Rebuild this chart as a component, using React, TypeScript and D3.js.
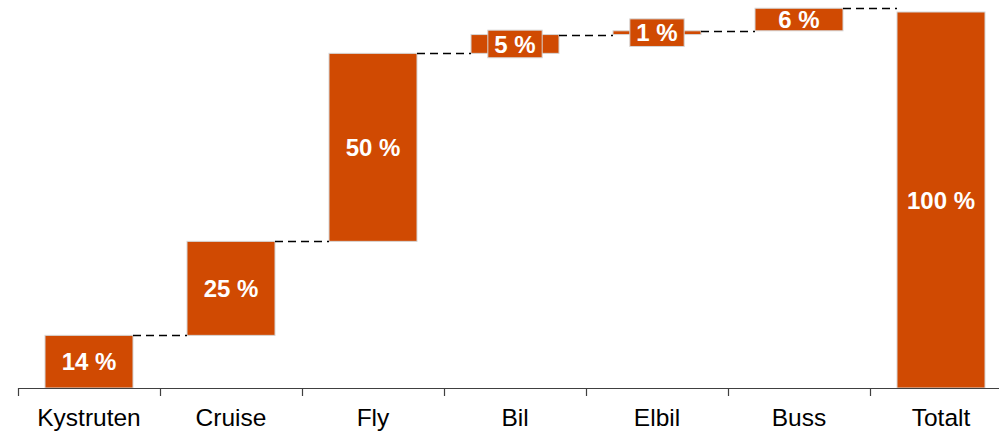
import React from "react";
import * as d3 from "d3";

// Waterfall: share of travellers by mode of transport
const categories = ["Kystruten", "Cruise", "Fly", "Bil", "Elbil", "Buss", "Totalt"];
const stepValues = [14, 25, 50, 5, 1, 6];
const totalValue = 100;

const WIDTH = 999;
const HEIGHT = 432;
const BASE_Y = 388;
const TOP_Y = 12;
const BAR_W = 88;
const FILL = "#D04A02";
const EDGE = "#d6d6d6";
const FONT = "'Liberation Sans', Arial, Helvetica, sans-serif";

type Bar = { cat: string; start: number; end: number; value: number };

export default function App() {
  const x = d3.scaleBand<string>().domain(categories).range([18, 18 + 142 * categories.length]).padding(0);
  const y = d3.scaleLinear().domain([0, 100]).range([BASE_Y, TOP_Y]);

  let running = 0;
  const bars: Bar[] = stepValues.map((v, i) => {
    const b = { cat: categories[i], start: running, end: running + v, value: v };
    running += v;
    return b;
  });
  bars.push({ cat: categories[categories.length - 1], start: 0, end: totalValue, value: totalValue });

  const bw = x.bandwidth();
  const barX = (c: string) => (x(c) as number) + (bw - BAR_W) / 2;
  const fmt = (v: number) => `${d3.format(".0f")(v)} %`;
  const fontSize = 24;
  const approxTextW = (s: string) => {
    // bold Arial advance widths for the glyphs used in labels
    const w: Record<string, number> = { "%": 0.889, " ": 0.278 };
    return s.split("").reduce((a, ch) => a + (w[ch] ?? 0.556), 0) * fontSize;
  };

  const boundaries = categories.map((c) => x(c) as number);

  return (
    <div style={{ position: "absolute", left: 0, top: 0 }}>
      <svg width={WIDTH} height={HEIGHT} style={{ display: "block", background: "#fff" }}>
        {/* bars */}
        {bars.map((b, i) => {
          const top = y(Math.max(b.start, b.end));
          const bot = y(Math.min(b.start, b.end));
          return (
            <rect
              key={"bar" + i}
              x={barX(b.cat)}
              y={top}
              width={BAR_W}
              height={Math.max(bot - top, 1)}
              fill={FILL}
              stroke={EDGE}
              strokeWidth={1}
            />
          );
        })}
        {/* connectors between consecutive steps */}
        {bars.slice(0, -1).map((b, i) => {
          const next = bars[i + 1];
          const yy = Math.round(y(b.end)) + 0.5;
          return (
            <line
              key={"con" + i}
              x1={barX(b.cat) + BAR_W}
              x2={barX(next.cat)}
              y1={yy}
              y2={yy}
              stroke="#000"
              strokeWidth={1.3}
              strokeDasharray="8,5"
            />
          );
        })}
        {/* value labels; a filled box is placed behind labels on thin bars */}
        {bars.map((b, i) => {
          const cx = barX(b.cat) + BAR_W / 2;
          const cy = (y(b.start) + y(b.end)) / 2;
          const h = Math.abs(y(b.start) - y(b.end));
          const label = fmt(b.value);
          const boxW = approxTextW(label) + 13;
          const boxH = 27.6;
          return (
            <g key={"lab" + i}>
              {h < 20 && (
                <rect
                  x={cx - boxW / 2}
                  y={cy - boxH / 2}
                  width={boxW}
                  height={boxH}
                  fill={FILL}
                  stroke={EDGE}
                  strokeWidth={1}
                />
              )}
              <text
                x={cx}
                y={cy}
                dy="0.36em"
                textAnchor="middle"
                fill="#fff"
                fontFamily={FONT}
                fontWeight="bold"
                fontSize={fontSize}
              >
                {label}
              </text>
            </g>
          );
        })}
        {/* category axis */}
        <line x1={18} x2={WIDTH} y1={BASE_Y + 0.5} y2={BASE_Y + 0.5} stroke="#404040" strokeWidth={1.2} />
        {boundaries.map((bx, i) => (
          <line
            key={"tick" + i}
            x1={Math.round(bx) + 0.5}
            x2={Math.round(bx) + 0.5}
            y1={BASE_Y}
            y2={BASE_Y + 8}
            stroke="#404040"
            strokeWidth={1.2}
          />
        ))}
        {categories.map((c) => (
          <text
            key={"cat" + c}
            x={(x(c) as number) + bw / 2}
            y={426}
            textAnchor="middle"
            fill="#000"
            fontFamily={FONT}
            fontSize={24.5}
          >
            {c}
          </text>
        ))}
      </svg>
    </div>
  );
}
